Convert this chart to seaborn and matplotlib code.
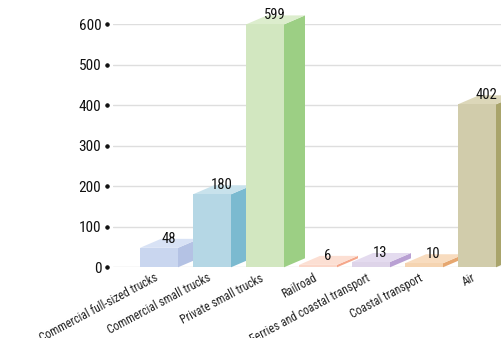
import matplotlib

matplotlib.use("Agg")
import matplotlib.pyplot as plt
import matplotlib.transforms as mtransforms
import seaborn as sns
from matplotlib import font_manager

categories = [
    "Commercial full-sized trucks",
    "Commercial small trucks",
    "Private small trucks",
    "Railroad",
    "Ferries and coastal transport",
    "Coastal transport",
    "Air",
]
values = [48, 180, 599, 6, 13, 10, 402]
y_ticks = [0, 100, 200, 300, 400, 500, 600]

front_colors = ["#c9d6ef", "#b5d7e5", "#d2e7c0", "#fbd7c9", "#ded4e9", "#f5d4b1", "#d1ccab"]
top_colors = ["#d8e2f5", "#c8e2ec", "#dcedcd", "#fcdfd3", "#e4dbef", "#f8dcbf", "#dcd7b9"]
side_colors = ["#b4c2e4", "#7bbad0", "#9ccf84", "#f5a78b", "#b9a0d3", "#e6a770", "#a9a46b"]

sns.set_theme(style="white")
available = {f.name for f in font_manager.fontManager.ttflist}
family = next(
    (name for name in ["Liberation Sans Narrow", "Roboto Condensed", "Roboto", "DejaVu Sans"] if name in available),
    "DejaVu Sans",
)
plt.rcParams["font.family"] = [family, "DejaVu Sans"]

DPI = 100
fig = plt.figure(figsize=(502 / DPI, 338 / DPI), dpi=DPI)
# plot area runs off the right edge like the reference
ax = fig.add_axes([113 / 502, (338 - 267.3) / 338, (502 - 113) / 502, (267.3 - 24) / 338])

px_per_cat = 53.0
px_per_unit = (267.3 - 24) / 600
bar_width = 38 / px_per_cat
depth_x = 21 / px_per_cat
depth_y = 9 / px_per_unit

sns.barplot(
    x=categories,
    y=values,
    hue=categories,
    palette=front_colors,
    legend=False,
    width=bar_width,
    saturation=1,
    linewidth=0,
    ax=ax,
)

for i, bar in enumerate(ax.patches):
    x0 = bar.get_x()
    w = bar.get_width()
    h = bar.get_height()
    base_z = 2 + 3 * i
    bar.set_zorder(base_z + 2)
    bar.set_clip_on(False)
    ax.fill(
        [x0 + w, x0 + w + depth_x, x0 + w + depth_x, x0 + w],
        [0, depth_y, h + depth_y, h],
        color=side_colors[i], lw=0, zorder=base_z, clip_on=False,
    )
    ax.fill(
        [x0, x0 + w, x0 + w + depth_x, x0 + depth_x],
        [h, h, h + depth_y, h + depth_y],
        color=top_colors[i], lw=0, zorder=base_z + 1, clip_on=False,
    )
    ax.annotate(
        f"{values[i]}",
        xy=(x0 + w / 2 + depth_x / 2, h + depth_y),
        xytext=(-1, 0), textcoords="offset pixels",
        ha="center", va="center", fontsize=10.5, color="#111111",
        zorder=100, annotation_clip=False,
    )

ax.set_xlim((113 - 159) / px_per_cat, (502 - 159) / px_per_cat)
ax.set_ylim(0, 600)
ax.set_yticks(y_ticks)
ax.set_yticklabels([str(t) for t in y_ticks], fontsize=12, color="#111111")
ax.grid(axis="y", color="#dedede", linewidth=1)
ax.set_axisbelow(True)
for side in ["top", "right", "bottom", "left"]:
    ax.spines[side].set_visible(False)
ax.set_xlabel("")
ax.set_ylabel("")

# y ticks drawn as small dots left of the plot area
ax.spines["left"].set_position(("outward", 4.5))
ax.tick_params(axis="y", length=2.4, width=0.8, pad=1.5, left=True, colors="#111111")
for line in ax.yaxis.get_ticklines():
    line.set_marker("o")
    line.set_markerfacecolor("#111111")

ax.set_xticks(range(len(categories)))
ax.set_xticklabels(categories, rotation=28, ha="right", va="top", rotation_mode="anchor", fontsize=8.5, color="#222222")
ax.tick_params(axis="x", length=0, pad=3)
shift = mtransforms.ScaledTranslation(-5 / DPI, 0, fig.dpi_scale_trans)
for label in ax.get_xticklabels():
    label.set_transform(label.get_transform() + shift)

fig.savefig("out.png", dpi=DPI)
